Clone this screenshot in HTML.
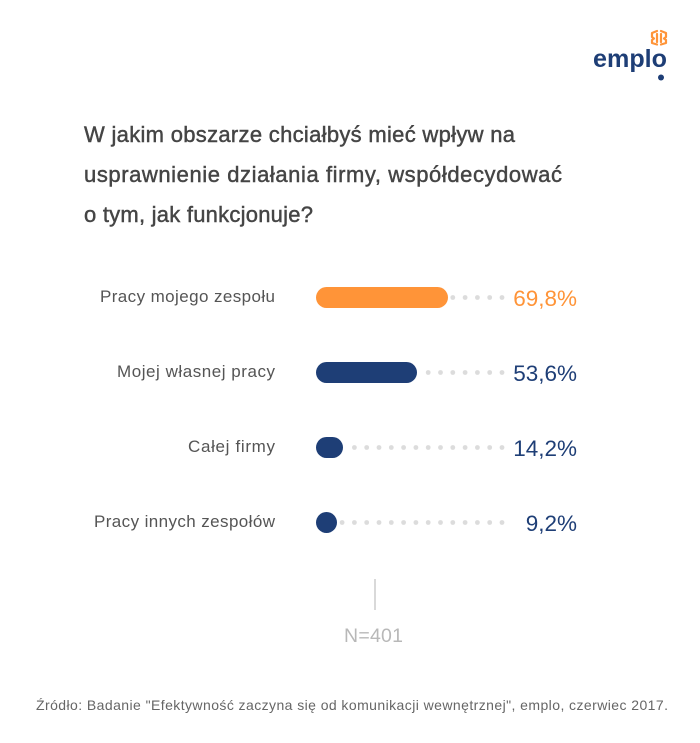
<!DOCTYPE html>
<html>
<head>
<meta charset="utf-8">
<style>
  html, body { margin: 0; padding: 0; background: #ffffff; }
  svg { display: block; }
  text { font-family: "Liberation Sans", "DejaVu Sans", sans-serif; }
</style>
</head>
<body>
<svg width="700" height="743" viewBox="0 0 700 743" xmlns="http://www.w3.org/2000/svg">
  <rect width="700" height="743" fill="#ffffff"/>

  <!-- Logo -->
  <g fill="none" stroke="#FF9438" stroke-width="2.2" stroke-linejoin="round" stroke-linecap="round">
    <path d="M657 31 L652 33 L652 37 L654 38.5 L652 40 L652 43 L657 44.5"/>
    <path d="M661 31 L666 33 L666 37 L664 38.5 L666 40 L666 43 L661 44.5"/>
    <path d="M657 34 L657 42"/>
    <path d="M661 34 L661 42"/>
  </g>
  <text x="593" y="67" font-size="25" font-weight="bold" fill="#1E3E76" textLength="74" lengthAdjust="spacingAndGlyphs">emplo</text>
  <circle cx="661" cy="77.5" r="3" fill="#1E3E76"/>

  <!-- Title -->
  <g font-size="22" fill="#454545" stroke="#454545" stroke-width="0.45">
    <text x="84" y="142" textLength="431" lengthAdjust="spacing">W jakim obszarze chciałbyś mieć wpływ na</text>
    <text x="84" y="182" textLength="478" lengthAdjust="spacing">usprawnienie działania firmy, współdecydować</text>
    <text x="84" y="222" textLength="229" lengthAdjust="spacing">o tym, jak funkcjonuje?</text>
  </g>

  <!-- Labels -->
  <g font-size="17" fill="#555555">
    <text x="100" y="302" textLength="175" lengthAdjust="spacing">Pracy mojego zespołu</text>
    <text x="117" y="377" textLength="158" lengthAdjust="spacing">Mojej własnej pracy</text>
    <text x="188" y="452" textLength="87" lengthAdjust="spacing">Całej firmy</text>
    <text x="94" y="527" textLength="181" lengthAdjust="spacing">Pracy innych zespołów</text>
  </g>

  <!-- Bars -->
  <rect x="316" y="287" width="132" height="21" rx="10.5" fill="#FF9438"/>
  <rect x="316" y="362" width="101" height="21" rx="10.5" fill="#1E3E76"/>
  <rect x="316" y="437" width="27" height="21" rx="10.5" fill="#1E3E76"/>
  <circle cx="326.5" cy="522.5" r="10.5" fill="#1E3E76"/>

  <!-- Dots -->
  <g fill="#dcdcdc">
    <circle cx="452.8" cy="297.5" r="2.4"/>
    <circle cx="465.1" cy="297.5" r="2.4"/>
    <circle cx="477.4" cy="297.5" r="2.4"/>
    <circle cx="489.7" cy="297.5" r="2.4"/>
    <circle cx="502" cy="297.5" r="2.4"/>

    <circle cx="428.2" cy="372.5" r="2.4"/>
    <circle cx="440.5" cy="372.5" r="2.4"/>
    <circle cx="452.8" cy="372.5" r="2.4"/>
    <circle cx="465.1" cy="372.5" r="2.4"/>
    <circle cx="477.4" cy="372.5" r="2.4"/>
    <circle cx="489.7" cy="372.5" r="2.4"/>
    <circle cx="502" cy="372.5" r="2.4"/>

    <circle cx="354.4" cy="447.5" r="2.4"/>
    <circle cx="366.7" cy="447.5" r="2.4"/>
    <circle cx="379" cy="447.5" r="2.4"/>
    <circle cx="391.3" cy="447.5" r="2.4"/>
    <circle cx="403.6" cy="447.5" r="2.4"/>
    <circle cx="415.9" cy="447.5" r="2.4"/>
    <circle cx="428.2" cy="447.5" r="2.4"/>
    <circle cx="440.5" cy="447.5" r="2.4"/>
    <circle cx="452.8" cy="447.5" r="2.4"/>
    <circle cx="465.1" cy="447.5" r="2.4"/>
    <circle cx="477.4" cy="447.5" r="2.4"/>
    <circle cx="489.7" cy="447.5" r="2.4"/>
    <circle cx="502" cy="447.5" r="2.4"/>

    <circle cx="342.1" cy="522.5" r="2.4"/>
    <circle cx="354.4" cy="522.5" r="2.4"/>
    <circle cx="366.7" cy="522.5" r="2.4"/>
    <circle cx="379" cy="522.5" r="2.4"/>
    <circle cx="391.3" cy="522.5" r="2.4"/>
    <circle cx="403.6" cy="522.5" r="2.4"/>
    <circle cx="415.9" cy="522.5" r="2.4"/>
    <circle cx="428.2" cy="522.5" r="2.4"/>
    <circle cx="440.5" cy="522.5" r="2.4"/>
    <circle cx="452.8" cy="522.5" r="2.4"/>
    <circle cx="465.1" cy="522.5" r="2.4"/>
    <circle cx="477.4" cy="522.5" r="2.4"/>
    <circle cx="489.7" cy="522.5" r="2.4"/>
    <circle cx="502" cy="522.5" r="2.4"/>
  </g>

  <!-- Percentages -->
  <g font-size="22.5" text-anchor="end">
    <text x="577" y="306" fill="#FF9438">69,8%</text>
    <text x="577" y="381" fill="#1E3E76">53,6%</text>
    <text x="577" y="456" fill="#1E3E76">14,2%</text>
    <text x="577" y="531" fill="#1E3E76">9,2%</text>
  </g>

  <!-- N -->
  <line x1="375" y1="579" x2="375" y2="610" stroke="#cccccc" stroke-width="1.5"/>
  <text x="344" y="642" font-size="19.5" fill="#b8b8b8" textLength="59" lengthAdjust="spacing">N=401</text>

  <!-- Source -->
  <text x="36" y="710" font-size="14" fill="#666666" textLength="632" lengthAdjust="spacing">Źródło: Badanie "Efektywność zaczyna się od komunikacji wewnętrznej", emplo, czerwiec 2017.</text>
</svg>
</body>
</html>
